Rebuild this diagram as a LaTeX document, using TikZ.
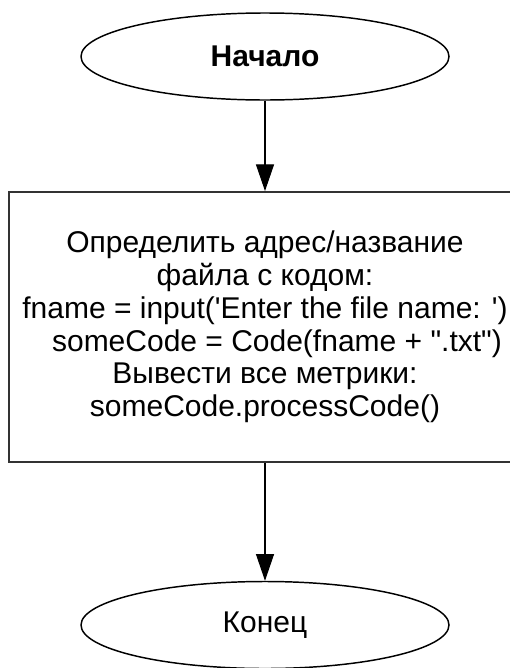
\documentclass[tikz,border=0pt]{standalone}
\usepackage{fontspec}
% no TeX ligatures, so ' and " stay straight
\setmainfont{Liberation Sans}[Ligatures=TeXOff]
\usetikzlibrary{shapes.geometric,arrows.meta}
\begin{document}
\begin{tikzpicture}[x=0.75pt,y=-0.75pt,
  terminal/.style={ellipse,draw=black,line width=1.1pt,minimum width=276pt,
    minimum height=65.25pt,inner sep=0pt,font=\fontsize{22.5pt}{24.6pt}\selectfont},
  process/.style={rectangle,draw=black!80,line width=1.4pt,minimum width=384pt,
    minimum height=202.5pt,inner sep=0pt,align=center,
    font=\fontsize{22.5pt}{24.6pt}\selectfont},
  flow/.style={line width=0.8pt,-{Triangle[length=20pt,width=13.5pt]}}]
\useasboundingbox (0,0) rectangle (510,668);
\clip (0,0) rectangle (510,668);
\fill[white] (0,0) rectangle (510,668);
\node[terminal] (start) at (265,56.5) {\bfseries Начало};
\node[process] (body) at (265,327) {Определить адрес/название\\
  файла с кодом:\\
  fname = input('Enter the file name: ')\\
  \hspace*{18pt}someCode = Code(fname + ".txt")\\
  Вывести все метрики:\\
  someCode.processCode()};
\node[terminal] (stop) at (265,625) {Конец};
\draw[flow] (start) -- (body);
\draw[flow] (body) -- (stop);
\end{tikzpicture}
\end{document}
